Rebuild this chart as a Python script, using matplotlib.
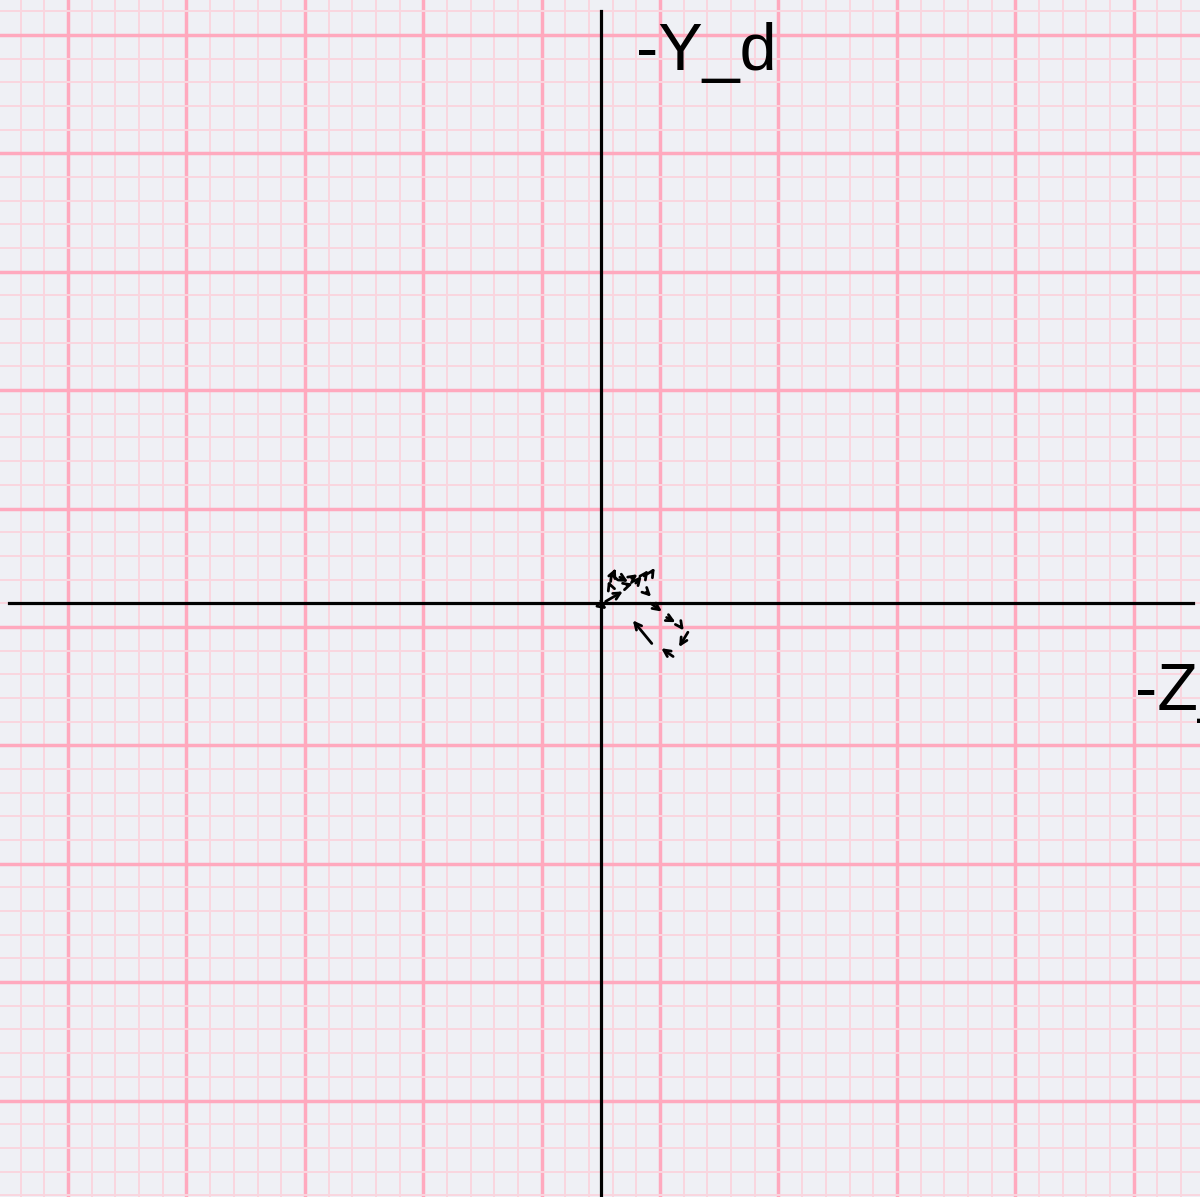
#!/usr/bin/env python3
"""Quiver-style trajectory sketch on pink graph paper."""

import numpy as np
import matplotlib

matplotlib.use("Agg")
import matplotlib.pyplot as plt

# arrow tails (x, y) and displacements (u, v), in plot units
arrow_x = [0.03, 0.08, 0.15, 0.19, 0.22, 0.32, 0.44, 0.52, 0.59, 0.73, 0.86, 0.77, 0.84, 1.11, 1.35, 1.47, 1.22, 0.86]
arrow_y = [-0.05, 0.03, 0.30, 0.46, 0.52, 0.44, 0.30, 0.42, 0.34, 0.46, 0.52, 0.19, 0.00, -0.24, -0.39, -0.49, -0.90, -0.68]
arrow_u = [0.07, 0.29, -0.03, -0.03, 0.03, 0.14, 0.10, 0.10, 0.10, 0.07, 0.05, 0.08, 0.19, 0.15, 0.05, -0.15, -0.20, -0.32]
arrow_v = [-0.05, 0.17, 0.08, 0.08, 0.07, -0.08, 0.03, 0.07, 0.12, 0.10, 0.08, -0.08, -0.14, -0.08, -0.07, -0.25, 0.14, 0.39]

axis_extent = 10.0
x_label = "-Z_d"
y_label = "-Y_d"

BG = "#eff0f5"
MAJOR = "#ffa9be"
MINOR = "#fad6df"


def main() -> None:
    fig = plt.figure(figsize=(12, 11.97), dpi=100, facecolor=BG)
    ax = fig.add_axes([0, 0, 1, 1])
    ax.set_facecolor(BG)

    # graph paper (ticks first, they widen the limits)
    ax.set_xticks(np.arange(-11, 12, 2.0))
    ax.set_xticks(np.arange(-11, 12, 0.4), minor=True)
    ax.set_yticks(np.arange(-12.4, 12, 2.0))
    ax.set_yticks(np.arange(-12.4, 12, 0.4), minor=True)
    ax.grid(which="minor", color=MINOR, lw=1.4, zorder=0)
    ax.grid(which="major", color=MAJOR, lw=2.5, zorder=0)
    ax.set_axisbelow(True)
    ax.tick_params(which="both", length=0, labelbottom=False, labelleft=False)
    for s in ax.spines.values():
        s.set_visible(False)

    # coordinate axes
    ax.plot([-axis_extent, axis_extent], [0, 0], color="black", lw=2.3, zorder=3)
    ax.plot([0, 0], [-axis_extent, axis_extent], color="black", lw=2.3, zorder=3)

    for x, y, u, v in zip(arrow_x, arrow_y, arrow_u, arrow_v):
        ax.annotate(
            "",
            xy=(x + u, y + v),
            xytext=(x, y),
            arrowprops=dict(arrowstyle="->", color="black", lw=2.0,
                            mutation_scale=12, shrinkA=0, shrinkB=0),
            zorder=4,
        )

    ax.text(0.6, 9.0, y_label, fontsize=48, family="Liberation Sans",
            va="baseline", ha="left", zorder=5)
    # clipped at the right edge, as in the source
    ax.text(9.02, -1.81, x_label, fontsize=48, family="Liberation Sans",
            va="baseline", ha="left", zorder=5)

    ax.set_xlim(-10.15, 10.12)
    ax.set_ylim(-10.03, 10.19)
    fig.savefig("out.png", dpi=100, facecolor=BG)
    plt.close(fig)


if __name__ == "__main__":
    main()
